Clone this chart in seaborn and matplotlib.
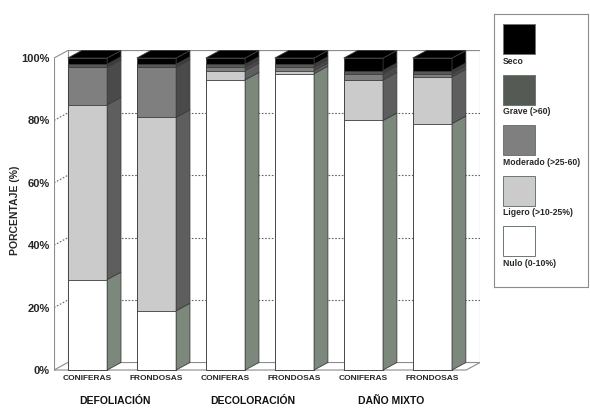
import matplotlib
matplotlib.use("Agg")
import matplotlib.pyplot as plt
import numpy as np
import pandas as pd
import seaborn as sns
from matplotlib.patches import Polygon, Rectangle
from matplotlib.ticker import PercentFormatter

# data (percent of trees per damage class)
bar_ids = ["def_con", "def_fro", "dec_con", "dec_fro", "mix_con", "mix_fro"]
bar_labels = ["CONIFERAS", "FRONDOSAS", "CONIFERAS", "FRONDOSAS", "CONIFERAS", "FRONDOSAS"]
groups = ["DEFOLIACIÓN", "DECOLORACIÓN", "DAÑO MIXTO"]
levels = ["Nulo (0-10%)", "Ligero (>10-25%)", "Moderado (>25-60)", "Grave (>60)", "Seco"]
nulo = [29, 19, 93, 95, 80, 79]
ligero = [56, 62, 3, 1, 13, 15]
moderado = [12, 16, 1, 1, 2, 1]
grave = [1, 1, 1, 1, 1, 1]
seco = [2, 2, 2, 2, 4, 4]

front_cols = ["#ffffff", "#cbcbcb", "#7f7f7f", "#555a55", "#000000"]
side_cols = ["#7d887d", "#5e5e5e", "#4a4a4a", "#3a3d3a", "#000000"]

vals = np.array([nulo, ligero, moderado, grave, seco], dtype=float)
tops = np.cumsum(vals, axis=0)
bots = tops - vals

rows = []
for k, lev in enumerate(levels):
    for i, b in enumerate(bar_ids):
        rows.append({"bar": b, "level": lev, "cum": tops[k, i]})
df = pd.DataFrame(rows)

sns.set_style("white")
plt.rcParams["font.family"] = ["Liberation Sans", "DejaVu Sans"]

fig = plt.figure(figsize=(5.9, 4.08), dpi=100)
ax = fig.add_axes([0.0915, 0.0882, 0.722, 0.794])

w = 0.57
dx, dy = 0.2, 2.4
xmin, xmax = -0.486, 5.69

# walls and floor
wall = dict(color="#8c8c8c", lw=0.8, zorder=0.5)
grid = dict(color="#666666", lw=0.8, ls=(0, (1.5, 1.5)), zorder=0.5)
for v in [20, 40, 60, 80]:
    ax.plot([xmin, xmin + dx], [v, v + dy], **grid)
    ax.plot([xmin + dx, xmax], [v + dy, v + dy], **grid)
ax.plot([xmin, xmax - dx, xmax], [0, 0, dy], **wall)
ax.plot([xmin, xmin + dx, xmax], [0, dy, dy], **wall)
ax.plot([xmin, xmin + dx, xmax], [100, 100 + dy, 100 + dy], **wall)
ax.plot([xmin, xmin], [0, 100], **wall)
ax.plot([xmin + dx, xmin + dx], [dy, 100 + dy], **wall)
ax.plot([xmax, xmax], [dy, 100 + dy], **wall)

# stacked bars: draw cumulative totals from the top class down
for k in range(len(levels) - 1, -1, -1):
    sub = df[df["level"] == levels[k]]
    sns.barplot(data=sub, x="bar", y="cum", order=bar_ids, color=front_cols[k],
                saturation=1, width=w, edgecolor="#3c3c3c", linewidth=0.6,
                zorder=2, ax=ax)

# 3D side and top faces
for i in range(len(bar_ids)):
    xl, xr = i - w / 2, i + w / 2
    for k in range(len(levels)):
        b, t = bots[k, i], tops[k, i]
        if t <= b:
            continue
        ax.add_patch(Polygon([(xr, b), (xr + dx, b + dy), (xr + dx, t + dy), (xr, t)],
                             closed=True, facecolor=side_cols[k], edgecolor="#3c3c3c",
                             lw=0.6, zorder=2))
    t = tops[-1, i]
    ax.add_patch(Polygon([(xl, t), (xl + dx, t + dy), (xr + dx, t + dy), (xr, t)],
                         closed=True, facecolor="#000000", edgecolor="#3c3c3c",
                         lw=0.6, zorder=2))

ax.set_xlim(xmin, xmax)
ax.set_ylim(-0.64, 103.2)
for s in ax.spines.values():
    s.set_visible(False)
ax.set_yticks([0, 20, 40, 60, 80, 100])
ax.yaxis.set_major_formatter(PercentFormatter(decimals=0))
ax.tick_params(axis="y", length=0, pad=3, labelsize=8)
ax.set_xticks(range(len(bar_ids)))
ax.set_xticklabels(bar_labels, fontsize=6, fontweight="bold")
ax.tick_params(axis="x", length=0, pad=2.5)
for lab in ax.get_yticklabels():
    lab.set_fontweight("bold")
ax.set_xlabel("")
ax.set_ylabel("PORCENTAJE (%)", fontsize=7.5, fontweight="bold", labelpad=1)

for g, name in enumerate(groups):
    ax.annotate(name, xy=(2 * g + 0.4, 0), xycoords=("data", "axes fraction"),
                xytext=(0, -17), textcoords="offset points", ha="center", va="top",
                fontsize=7.5, fontweight="bold", color="#111111")

# legend panel: swatch with label underneath
lax = fig.add_axes([494 / 590, (408 - 287) / 408, 94 / 590, 273 / 408])
lax.set_xlim(0, 94)
lax.set_ylim(273, 0)
lax.set_xticks([])
lax.set_yticks([])
for s in lax.spines.values():
    s.set_color("#8c8c8c")
    s.set_linewidth(0.8)
for j, k in enumerate(range(len(levels) - 1, -1, -1)):
    y0 = 10 + j * 50.5
    lax.add_patch(Rectangle((9, y0), 32, 30, facecolor=front_cols[k],
                            edgecolor="#6a7a6a", lw=0.7))
    lax.text(9, y0 + 37, levels[k], fontsize=6.2, fontweight="bold",
             ha="left", va="center")

fig.savefig("out.png", dpi=100)
